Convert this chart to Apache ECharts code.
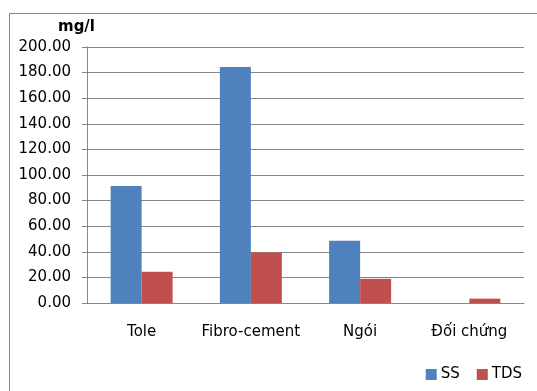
<!DOCTYPE html>
<html>
<head>
<meta charset="utf-8">
<script src="https://cdn.jsdelivr.net/npm/echarts@6/dist/echarts.min.js"></script>
<style>
  html, body { margin: 0; padding: 0; background: #fff; }
  #chart { width: 537px; height: 391px; }
</style>
</head>
<body>
<div id="chart"></div>
<script>
// Roof materials and measured concentrations (mg/l)
const categories = ['Tole', 'Fibro-cement', 'Ngói', 'Đối chứng'];
const ssValues = [91.4, 184.4, 48.6, 0];
const tdsValues = [24.4, 39.4, 18.9, 3.4];
const unitLabel = 'mg/l';

const axisGrey = '#868686';
const fontFamily = 'DejaVu Sans, sans-serif';

const chart = echarts.init(document.getElementById('chart'));
chart.setOption({
  animation: false,
  backgroundColor: '#fff',
  graphic: [
    {
      type: 'rect',
      left: 7, top: 11,
      shape: { width: 600, height: 500 },
      style: { fill: 'none', stroke: axisGrey, lineWidth: 1 },
      silent: true
    },
    {
      type: 'text',
      left: 58, top: 20,
      style: { text: unitLabel, font: 'bold 15px ' + fontFamily, fill: '#000' }
    }
  ],
  grid: { left: 87, right: 13, top: 47, bottom: 88 },
  legend: {
    right: 10, top: 362,
    itemWidth: 11, itemHeight: 11, itemGap: 17,
    icon: 'rect',
    textStyle: { fontFamily, fontSize: 15, color: '#000', padding: [0, 0, 0, -1] },
    data: ['SS', 'TDS']
  },
  xAxis: {
    type: 'category',
    data: categories,
    axisLine: { lineStyle: { color: axisGrey } },
    axisTick: { length: 5, lineStyle: { color: '#a6a6a6' } },
    axisLabel: { fontFamily, fontSize: 15, color: '#000', margin: 22, interval: 0 }
  },
  yAxis: {
    type: 'value',
    min: 0, max: 200, interval: 20,
    axisLine: { show: true, lineStyle: { color: axisGrey } },
    axisTick: { show: true, length: 5, lineStyle: { color: axisGrey } },
    splitLine: { lineStyle: { color: axisGrey } },
    axisLabel: {
      fontFamily, fontSize: 15, color: '#000', margin: 16,
      formatter: v => v.toFixed(2)
    }
  },
  series: [
    {
      name: 'SS', type: 'bar', data: ssValues,
      barWidth: 31, barGap: '0%',
      itemStyle: { color: '#4F81BD' }
    },
    {
      name: 'TDS', type: 'bar', data: tdsValues,
      barWidth: 31,
      itemStyle: { color: '#C0504D' }
    }
  ]
});
</script>
</body>
</html>
